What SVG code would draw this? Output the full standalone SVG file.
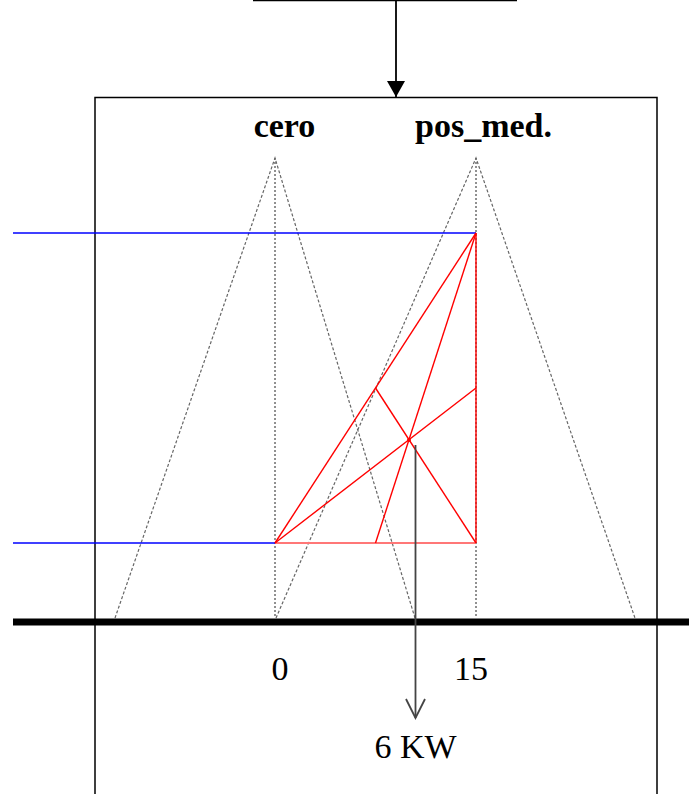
<svg xmlns="http://www.w3.org/2000/svg" width="689" height="794" viewBox="0 0 689 794">
<style>
.box{fill:none;stroke:#000;stroke-width:1.5}
.dotv{stroke:#222;stroke-width:1;stroke-dasharray:2 2;fill:none}
.dots{stroke:#666;stroke-width:1.2;stroke-dasharray:3 2;fill:none}
.red{stroke:#f00;stroke-width:1.4;fill:none}
.blue{stroke:#00f;stroke-width:1.5}
.lbl{font-family:"Liberation Serif","Times New Roman",serif;font-size:34px;fill:#000}
.b{font-weight:bold}
</style>
<defs>
<marker id="fill" markerWidth="16" markerHeight="18" refX="16" refY="9" orient="auto" markerUnits="userSpaceOnUse">
<path d="M0,0 L16,9 L0,18 Z" fill="#000"/>
</marker>
</defs>
<rect width="689" height="794" fill="#fff"/>
<g id="top-box"><line x1="253" y1="0.5" x2="517" y2="0.5" class="box"/></g>
<g id="main-box">
<path d="M95,794 V97.5 H657 V794" class="box"/>
</g>
<g id="triangles">
<line x1="275" y1="158" x2="275" y2="618" class="dotv"/>
<line x1="476" y1="158" x2="476" y2="618" class="dotv"/>
<polyline points="115,618 275,158 415,618" class="dots"/>
<polyline points="276,618 476,158 635,618" class="dots"/>
</g>
<g id="blue-lines">
<line x1="13" y1="233" x2="476" y2="233" class="blue"/>
<line x1="13" y1="543" x2="275" y2="543" class="blue"/>
</g>
<g id="red-construction">
<line x1="275" y1="543" x2="476" y2="543" stroke="#f77" stroke-width="2"/>
<line x1="476" y1="233" x2="476" y2="543" class="red"/>
<line x1="275" y1="543" x2="476" y2="233" class="red"/>
<line x1="275" y1="543" x2="476" y2="388" class="red"/>
<line x1="375.5" y1="543" x2="476" y2="233" class="red"/>
<line x1="375.5" y1="388" x2="476" y2="543" class="red"/>
<circle cx="409" cy="440" r="2" fill="#f00"/>
</g>
<g id="axis"><line x1="13" y1="622" x2="689" y2="622" stroke="#000" stroke-width="7"/></g>
<g id="connectors">
<line x1="396" y1="0" x2="396" y2="97" stroke="#000" stroke-width="1.8" marker-end="url(#fill)"/>
<line x1="415.5" y1="445" x2="415.5" y2="718" stroke="#444" stroke-width="1.8"/>
<polyline points="406,699 415.5,718 425,699" fill="none" stroke="#444" stroke-width="1.8"/>
</g>
<g id="labels">
<text x="284.5" y="137" text-anchor="middle" class="lbl b">cero</text>
<text x="483.5" y="137" text-anchor="middle" class="lbl b">pos_med.</text>
<text x="280" y="680" text-anchor="middle" class="lbl">0</text>
<text x="471" y="680" text-anchor="middle" class="lbl">15</text>
<text x="415.5" y="758" text-anchor="middle" class="lbl">6 KW</text>
</g>
</svg>
